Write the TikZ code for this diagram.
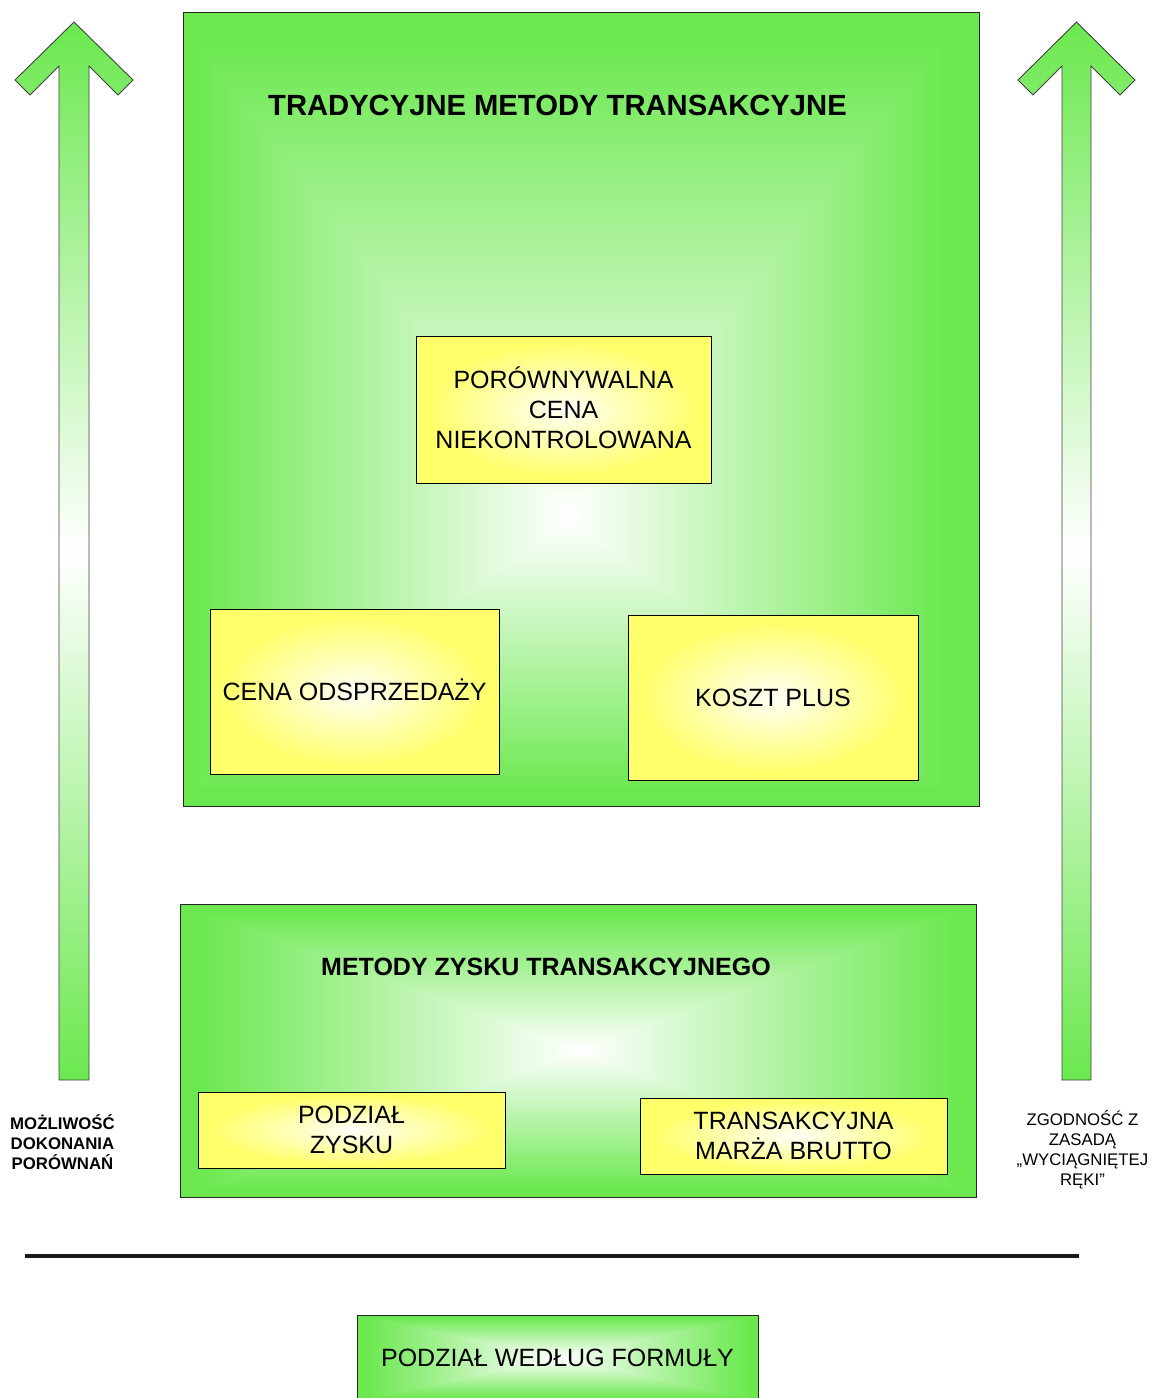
\documentclass[tikz,border=0pt]{standalone}
\usepackage{fontspec}
\setmainfont{Liberation Sans}

\definecolor{arrowg}{rgb}{0.42,0.91,0.31}
\newcommand\capline[1]{\raisebox{0pt}[0.716em][0pt]{#1}}

\pgfdeclarefunctionalshading{greenA}{\pgfpoint{-50bp}{-50bp}}{\pgfpoint{50bp}{50bp}}{}{
 7 add dup 0 gt {32 div} {neg 18 div} ifelse
 exch 0.8 add abs 25 div
 2 copy lt {exch} if pop
 1.05 mul dup 1 gt {pop 1} if
 dup 0.58 mul 1 exch sub exch
 dup 0.09 mul 1 exch sub exch
 0.69 mul 1 exch sub
}
\pgfdeclarefunctionalshading{greenB}{\pgfpoint{-50bp}{-50bp}}{\pgfpoint{50bp}{50bp}}{}{
 abs 25 div exch abs 25 div
 2 copy lt {exch} if pop
 1.05 mul dup 1 gt {pop 1} if
 dup 0.58 mul 1 exch sub exch
 dup 0.09 mul 1 exch sub exch
 0.69 mul 1 exch sub
}
\pgfdeclarefunctionalshading{yellowC}{\pgfpoint{-50bp}{-50bp}}{\pgfpoint{50bp}{50bp}}{}{
 dup mul exch dup mul add sqrt 25 div
 1.1 mul dup 1 gt {pop 1} if
 1 exch 1 exch 0.55 mul 0.97 exch sub
}

\tikzset{
 gboxA/.style={draw=black!85, line width=1pt, rectangle, inner sep=0pt, shading=greenA, shade},
 gboxB/.style={draw=black!85, line width=1pt, rectangle, inner sep=0pt, shading=greenB, shade},
 ybox/.style={draw=black, line width=1pt, rectangle, inner sep=0pt, shading=yellowC, shade,
   align=center, font=\fontsize{25}{30}\selectfont},
 titletext/.style={inner sep=0pt},
 sidelabel/.style={align=center, inner sep=0pt},
 upArrow/.style={draw=black!75, line width=0.9pt, top color=arrowg, bottom color=arrowg, middle color=white},
}

\begin{document}
\begin{tikzpicture}[x=1pt, y=-1pt]
\path[use as bounding box, clip] (0,0) rectangle (1152,1398);

% arrows
\path[upArrow] (74,22) -- (133,80) -- (118,95) -- (89,66) -- (89,1080) -- (59,1080) -- (59,66) -- (30,95) -- (15,80) -- cycle;
\path[upArrow] (1076.5,22) -- (1135,80) -- (1120,95) -- (1091,66) -- (1091,1080) -- (1062,1080) -- (1062,66) -- (1033,95) -- (1018,80) -- cycle;

% traditional methods
\node[gboxA, minimum width=796pt, minimum height=794pt] (trad) at (581,409) {};
\node[titletext, font=\bfseries\fontsize{29.2}{32}\selectfont] (tradtitle) at (557.5,105.5) {\capline{TRADYCYJNE METODY TRANSAKCYJNE}};
\node[ybox, minimum width=295pt, minimum height=147pt] (pcn) at (563.5,409.5) {\capline{PORÓWNYWALNA}\\\capline{CENA}\\\capline{NIEKONTROLOWANA}};
\node[ybox, minimum width=289pt, minimum height=165pt] (co) at (354.5,691.5) {\capline{CENA ODSPRZEDAŻY}};
\node[ybox, minimum width=290pt, minimum height=165pt] (kp) at (773,697.5) {\capline{KOSZT PLUS}};

% transactional profit methods
\node[gboxB, minimum width=796pt, minimum height=293pt] (zysk) at (578,1050.5) {};
\node[titletext, font=\bfseries\fontsize{25}{30}\selectfont] (zysktitle) at (546,967) {\capline{METODY ZYSKU TRANSAKCYJNEGO}};
\node[ybox, minimum width=307pt, minimum height=76pt] (pz) at (351.5,1130) {\capline{PODZIAŁ}\\\capline{ZYSKU}};
\node[ybox, minimum width=307pt, minimum height=76pt] (tmb) at (793.5,1136) {\capline{TRANSAKCYJNA}\\\capline{MARŻA BRUTTO}};

% side labels
\node[sidelabel, font=\bfseries\fontsize{16.8}{20}\selectfont] (lleft) at (62.5,1143) {\capline{MOŻLIWOŚĆ}\\\capline{DOKONANIA}\\\capline{PORÓWNAŃ}};
\node[sidelabel, font=\fontsize{16.8}{20}\selectfont] (lright) at (1082.5,1149) {\capline{ZGODNOŚĆ Z}\\\capline{ZASADĄ}\\\capline{„WYCIĄGNIĘTEJ}\\\capline{RĘKI”}};

% separator line
\coordinate (sepL) at (25,1256);
\coordinate (sepR) at (1079,1256);
\draw[line width=4pt, black!90] (sepL) -- (sepR);

% formula split
\node[gboxB, minimum width=401pt, minimum height=85pt, align=center, font=\fontsize{25}{30}\selectfont] (formula) at (557.5,1357.5) {\capline{PODZIAŁ WEDŁUG FORMUŁY}};
\end{tikzpicture}
\end{document}
